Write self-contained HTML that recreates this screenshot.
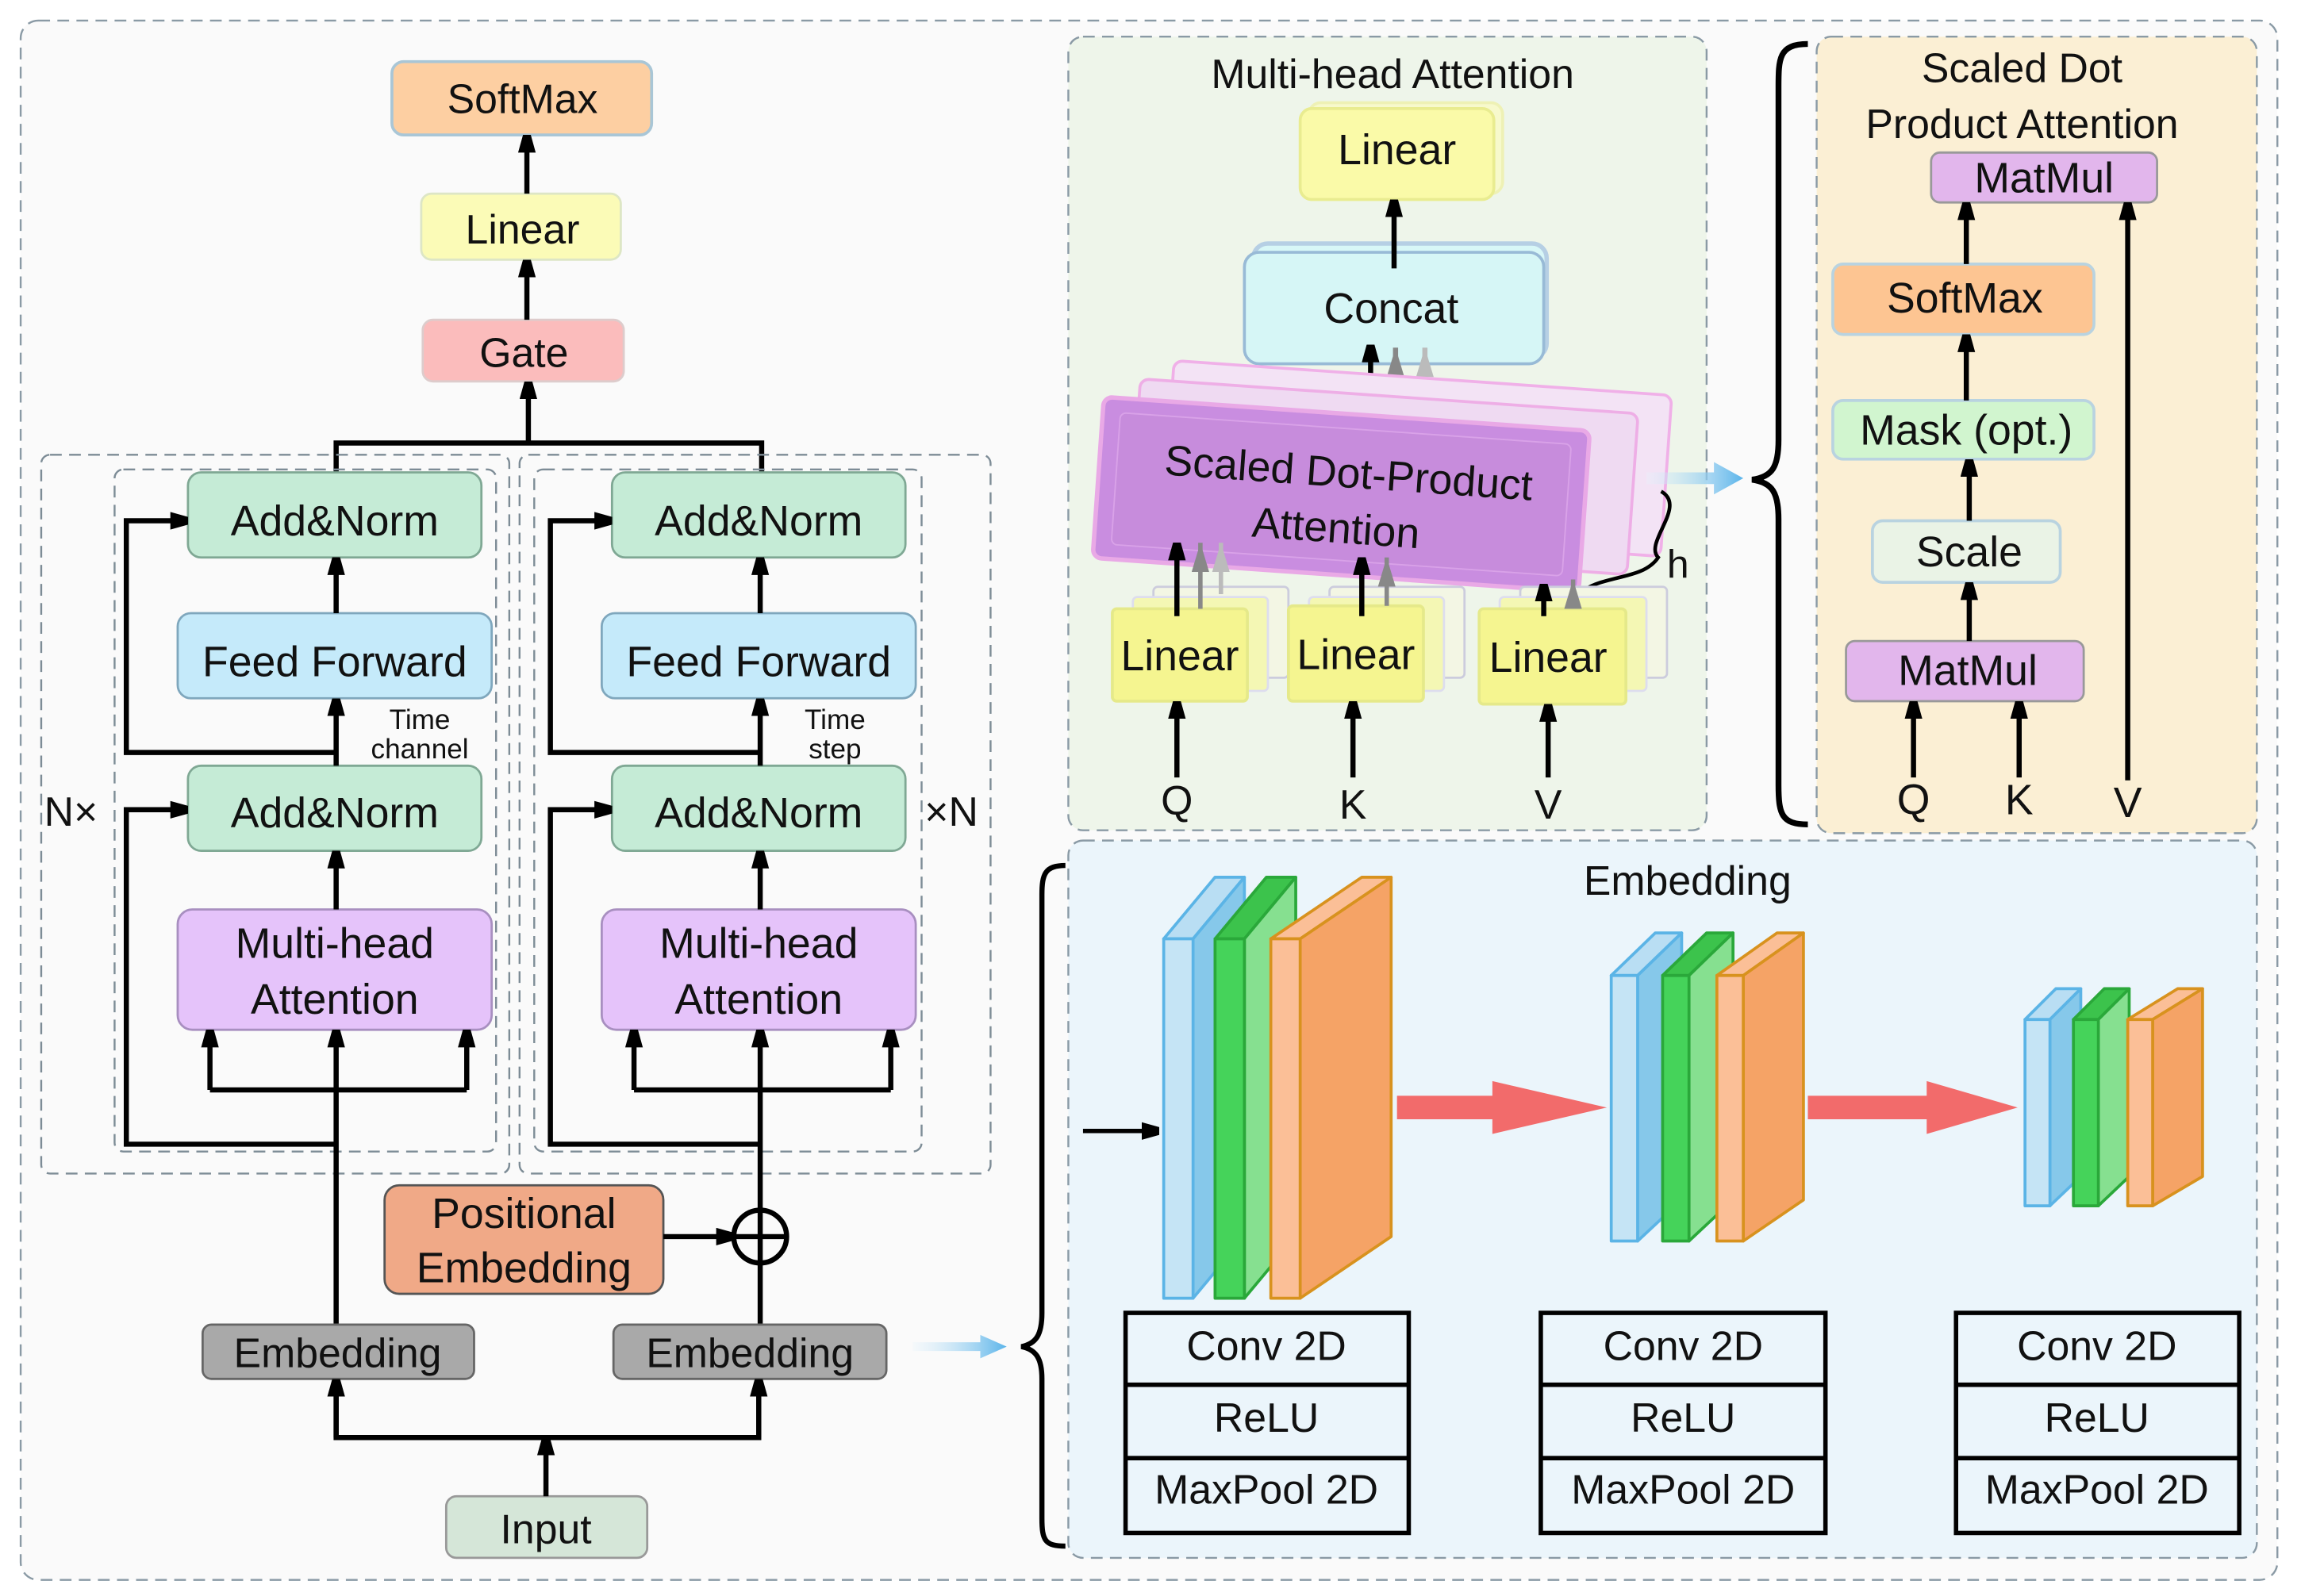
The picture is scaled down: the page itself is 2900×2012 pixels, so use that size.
<!DOCTYPE html>
<html><head><meta charset="utf-8"><style>
html,body{margin:0;padding:0;background:#fff}
svg{display:block}
text{font-family:"Liberation Sans",sans-serif;fill:#111}
</style></head><body>
<svg width="2900" height="2012" viewBox="0 0 1568 1088" xmlns="http://www.w3.org/2000/svg">
<defs>
<marker id="a" markerUnits="userSpaceOnUse" markerWidth="12" markerHeight="22" refX="10" refY="6" orient="auto"><path d="M0,0 L12,6 L0,12 Z" transform="scale(1.8,1)" fill="#000"/></marker>
<marker id="g1" markerUnits="userSpaceOnUse" markerWidth="22" markerHeight="12" refX="20" refY="6" orient="auto"><path d="M0,0 L20,6 L0,12 Z" fill="#888"/></marker>
<marker id="g2" markerUnits="userSpaceOnUse" markerWidth="22" markerHeight="12" refX="20" refY="6" orient="auto"><path d="M0,0 L20,6 L0,12 Z" fill="#bbb"/></marker>
<linearGradient id="bl" x1="0" x2="1" y1="0" y2="0"><stop offset="0" stop-color="#e8f4fb" stop-opacity="0.3"/><stop offset="1" stop-color="#5ab4ea"/></linearGradient>
</defs>
<rect x="0" y="0" width="1568" height="1088" fill="#fff"/>
<rect x="14" y="14" width="1538" height="1063" rx="12" fill="#fafafa" stroke="#8a9aa5" stroke-dasharray="8,5" stroke-width="1.3"/>

<g font-size="28" text-anchor="middle">
<rect x="267" y="42" width="177" height="50" rx="8" fill="#fdcfa2" stroke="#a9c6d6" stroke-width="2"/>
<text x="356" y="77">SoftMax</text>
<rect x="287" y="132" width="136" height="45" rx="7" fill="#fbfbb7" stroke="#dde6c5" stroke-width="1.5"/>
<text x="356" y="166">Linear</text>
<rect x="288" y="218" width="137" height="42" rx="7" fill="#fbbcbc" stroke="#dcc" stroke-width="1.5"/>
<text x="357" y="250">Gate</text>
</g>
<g stroke="#000" stroke-width="3.5" fill="none">
<line x1="359" y1="132" x2="359" y2="94" marker-end="url(#a)"/>
<line x1="359" y1="218" x2="359" y2="179" marker-end="url(#a)"/>
<line x1="360" y1="302" x2="360" y2="262" marker-end="url(#a)"/>
<polyline points="229,322 229,302 519,302 519,322"/>
</g>

<g fill="none" stroke="#7d8c96" stroke-dasharray="8,5" stroke-width="1.3">
<rect x="28" y="310" width="319" height="490" rx="6"/>
<rect x="78" y="320" width="260" height="465" rx="6"/>
<rect x="354" y="310" width="321" height="490" rx="6"/>
<rect x="364" y="320" width="264" height="465" rx="6"/>
</g>

<g id="enc">
<rect x="128" y="322" width="200" height="58" rx="9" fill="#c5ebd6" stroke="#7fa894" stroke-width="1.5"/>
<rect x="121" y="418" width="214" height="58" rx="9" fill="#c5eafa" stroke="#7fa7bd" stroke-width="1.5"/>
<rect x="128" y="522" width="200" height="58" rx="9" fill="#c5ebd6" stroke="#7fa894" stroke-width="1.5"/>
<rect x="121" y="620" width="214" height="82" rx="10" fill="#e5c3fa" stroke="#a88fc0" stroke-width="1.5"/>
<g font-size="29" text-anchor="middle">
<text x="228" y="365">Add&amp;Norm</text>
<text x="228" y="461">Feed Forward</text>
<text x="228" y="564">Add&amp;Norm</text>
<text x="228" y="653">Multi-head</text>
<text x="228" y="691">Attention</text>
</g>
<g stroke="#000" stroke-width="3.5" fill="none">
<line x1="229" y1="418" x2="229" y2="382" marker-end="url(#a)"/>
<line x1="229" y1="522" x2="229" y2="478" marker-end="url(#a)"/>
<line x1="229" y1="620" x2="229" y2="582" marker-end="url(#a)"/>
<polyline points="229,513 86,513 86,355 126,355" marker-end="url(#a)"/>
<polyline points="229,780 86,780 86,552 126,552" marker-end="url(#a)"/>
<line x1="143" y1="743" x2="318" y2="743"/>
<line x1="143" y1="743" x2="143" y2="704" marker-end="url(#a)"/>
<line x1="318" y1="743" x2="318" y2="704" marker-end="url(#a)"/>
<line x1="229" y1="905" x2="229" y2="704" marker-end="url(#a)"/>
</g>
</g>
<g transform="translate(289,0)"><use href="#enc"/></g>
<g font-size="19" text-anchor="middle">
<text x="286" y="497">Time</text><text x="286" y="517">channel</text>
<text x="569" y="497">Time</text><text x="569" y="517">step</text>
</g>
<text x="30" y="563" font-size="28">N×</text>
<text x="630" y="563" font-size="28">×N</text>

<rect x="262" y="808" width="190" height="74" rx="10" fill="#f0a987" stroke="#555" stroke-width="1.5"/>
<g font-size="29" text-anchor="middle"><text x="357" y="837">Positional</text><text x="357" y="874">Embedding</text></g>
<line x1="452" y1="843" x2="498" y2="843" stroke="#000" stroke-width="3.5" marker-end="url(#a)"/>
<circle cx="518" cy="843" r="18" fill="#fafafa" stroke="#000" stroke-width="3.5"/>
<line x1="500" y1="843" x2="536" y2="843" stroke="#000" stroke-width="3.5"/>
<line x1="518" y1="825" x2="518" y2="861" stroke="#000" stroke-width="3.5"/>

<rect x="138" y="903" width="185" height="37" rx="6" fill="#a9a9a9" stroke="#666" stroke-width="1.5"/>
<rect x="418" y="903" width="186" height="37" rx="6" fill="#a9a9a9" stroke="#666" stroke-width="1.5"/>
<g font-size="28" text-anchor="middle"><text x="230" y="932">Embedding</text><text x="511" y="932">Embedding</text></g>
<rect x="304" y="1020" width="137" height="42" rx="7" fill="#d5e6d8" stroke="#999" stroke-width="1.5"/>
<text x="372" y="1052" font-size="28" text-anchor="middle">Input</text>
<g stroke="#000" stroke-width="3.5" fill="none">
<line x1="372" y1="1020" x2="372" y2="982" marker-end="url(#a)"/>
<polyline points="229,942 229,980 517,980 517,942"/>
<line x1="229" y1="980" x2="229" y2="942" marker-end="url(#a)"/>
<line x1="517" y1="980" x2="517" y2="942" marker-end="url(#a)"/>
</g>
<path d="M622,915 L668,915 L668,910 L686,918 L668,926 L668,921 L622,921 Z" fill="url(#bl)"/>

<rect x="728" y="25" width="435" height="541" rx="10" fill="#eef5ea" stroke="#8a9aa5" stroke-dasharray="8,5" stroke-width="1.3"/>
<text x="949" y="60" font-size="28" text-anchor="middle">Multi-head Attention</text>
<rect x="892" y="70" width="132" height="62" rx="8" fill="#fbfbc0" stroke="#eef0a0" stroke-width="2" opacity="0.7"/>
<rect x="886" y="74" width="132" height="62" rx="8" fill="#fafaa8" stroke="#e9ec90" stroke-width="2"/>
<text x="952" y="112" font-size="29" text-anchor="middle">Linear</text>
<rect x="854" y="166" width="200" height="78" rx="10" fill="#d8f7f7" stroke="#b6cfe4" stroke-width="3"/>
<rect x="848" y="172" width="204" height="76" rx="10" fill="#d6f6f6" stroke="#98bad6" stroke-width="2"/>
<text x="948" y="220" font-size="29" text-anchor="middle">Concat</text>
<g stroke="#000" stroke-width="3.5"><line x1="950" y1="183" x2="950" y2="138" marker-end="url(#a)"/>
<line x1="934" y1="295" x2="934" y2="237" marker-end="url(#a)"/></g>
<line x1="951" y1="295" x2="951" y2="237" stroke="#888" stroke-width="3.5" marker-end="url(#g1)"/>
<line x1="971" y1="275" x2="971" y2="237" stroke="#bbb" stroke-width="3.5" marker-end="url(#g2)"/>
<g transform="rotate(4 914 337)">
<rect x="794" y="254" width="340" height="110" rx="6" fill="#f3e3f5" stroke="#f0b0e8" stroke-width="2"/>
<rect x="772" y="268" width="340" height="110" rx="6" fill="#efdaf2" stroke="#eeaee6" stroke-width="2"/>
<rect x="748" y="282" width="332" height="110" rx="6" fill="#c98de0" stroke="#e9a9e6" stroke-width="3"/>
<rect x="760" y="292" width="308" height="90" rx="4" fill="#c78cdc" stroke="#d9a2e8" stroke-width="1"/>
<text x="918" y="332" font-size="29" text-anchor="middle">Scaled Dot-Product</text>
<text x="912" y="370" font-size="29" text-anchor="middle">Attention</text>
</g>
<path d="M1132,335 C1150,345 1120,370 1130,380 C1120,395 1095,392 1080,402" fill="none" stroke="#000" stroke-width="2.5"/>
<text x="1136" y="394" font-size="27">h</text>
<path d="M1122,322 L1168,322 L1168,315 L1188,326 L1168,337 L1168,330 L1122,330 Z" fill="url(#bl)"/>

<g>
<rect x="786" y="400" width="92" height="62" rx="3" fill="#f3f6e4" stroke="#ccd" stroke-width="1.5"/>
<rect x="772" y="407" width="92" height="64" rx="3" fill="#f4f7b4" stroke="#dde" stroke-width="1.5"/>
<rect x="758" y="415" width="92" height="63" rx="3" fill="#f5f590" stroke="#e5e98a" stroke-width="2"/>
<rect x="906" y="400" width="92" height="62" rx="3" fill="#f3f6e4" stroke="#ccd" stroke-width="1.5"/>
<rect x="892" y="407" width="92" height="64" rx="3" fill="#f4f7b4" stroke="#dde" stroke-width="1.5"/>
<rect x="878" y="413" width="92" height="65" rx="3" fill="#f5f590" stroke="#e5e98a" stroke-width="2"/>
<rect x="1036" y="400" width="100" height="62" rx="3" fill="#f3f6e4" stroke="#ccd" stroke-width="1.5"/>
<rect x="1022" y="407" width="100" height="64" rx="3" fill="#f4f7b4" stroke="#dde" stroke-width="1.5"/>
<rect x="1008" y="415" width="100" height="65" rx="3" fill="#f5f590" stroke="#e5e98a" stroke-width="2"/>
<g font-size="29" text-anchor="middle"><text x="804" y="457">Linear</text><text x="924" y="456">Linear</text><text x="1055" y="458">Linear</text></g>
</g>
<g stroke="#000" stroke-width="3.5">
<line x1="802" y1="420" x2="802" y2="372" marker-end="url(#a)"/>
<line x1="928" y1="420" x2="928" y2="382" marker-end="url(#a)"/>
<line x1="1052" y1="420" x2="1052" y2="400" marker-end="url(#a)"/>
<line x1="802" y1="530" x2="802" y2="480" marker-end="url(#a)"/>
<line x1="922" y1="530" x2="922" y2="480" marker-end="url(#a)"/>
<line x1="1055" y1="530" x2="1055" y2="482" marker-end="url(#a)"/>
</g>
<line x1="818" y1="415" x2="818" y2="370" stroke="#888" stroke-width="3" marker-end="url(#g1)"/>
<line x1="832" y1="405" x2="832" y2="370" stroke="#bbb" stroke-width="3" marker-end="url(#g2)"/>
<line x1="945" y1="413" x2="945" y2="380" stroke="#888" stroke-width="3" marker-end="url(#g1)"/>
<line x1="1072" y1="415" x2="1072" y2="395" stroke="#888" stroke-width="3" marker-end="url(#g1)"/>
<g font-size="28" text-anchor="middle"><text x="802" y="555">Q</text><text x="922" y="558">K</text><text x="1055" y="558">V</text></g>

<path d="M1232,30 C1212,30 1212,40 1212,60 L1212,300 C1212,318 1208,325 1194,327 C1208,329 1212,336 1212,354 L1212,535 C1212,555 1214,562 1232,562" fill="none" stroke="#000" stroke-width="4"/>

<rect x="1238" y="25" width="300" height="543" rx="10" fill="#fbefd4" stroke="#8a9aa5" stroke-dasharray="8,5" stroke-width="1.3"/>
<g font-size="28" text-anchor="middle"><text x="1378" y="56">Scaled Dot</text><text x="1378" y="94">Product Attention</text></g>
<rect x="1316" y="104" width="154" height="34" rx="6" fill="#e2b6ec" stroke="#999" stroke-width="1.5"/>
<rect x="1249" y="180" width="178" height="48" rx="7" fill="#fdc592" stroke="#b9d3e0" stroke-width="2"/>
<rect x="1249" y="273" width="178" height="40" rx="7" fill="#d1f5cf" stroke="#b9d3e0" stroke-width="2"/>
<rect x="1276" y="355" width="128" height="42" rx="7" fill="#eaf3e6" stroke="#b9d3e0" stroke-width="2"/>
<rect x="1258" y="437" width="162" height="41" rx="6" fill="#e2b6ec" stroke="#999" stroke-width="1.5"/>
<g font-size="29" text-anchor="middle">
<text x="1393" y="131">MatMul</text><text x="1339" y="213">SoftMax</text><text x="1340" y="303">Mask (opt.)</text>
<text x="1342" y="386">Scale</text><text x="1341" y="467">MatMul</text>
<text x="1304" y="555">Q</text><text x="1376" y="555">K</text><text x="1450" y="557">V</text>
</g>
<g stroke="#000" stroke-width="3.5">
<line x1="1340" y1="180" x2="1340" y2="140" marker-end="url(#a)"/>
<line x1="1340" y1="273" x2="1340" y2="230" marker-end="url(#a)"/>
<line x1="1342" y1="355" x2="1342" y2="315" marker-end="url(#a)"/>
<line x1="1342" y1="437" x2="1342" y2="399" marker-end="url(#a)"/>
<line x1="1304" y1="530" x2="1304" y2="480" marker-end="url(#a)"/>
<line x1="1376" y1="530" x2="1376" y2="480" marker-end="url(#a)"/>
<line x1="1450" y1="532" x2="1450" y2="140" marker-end="url(#a)"/>
</g>

<rect x="728" y="573" width="810" height="489" rx="10" fill="#ebf5fb" stroke="#8a9aa5" stroke-dasharray="8,5" stroke-width="1.3"/>
<text x="1150" y="610" font-size="28" text-anchor="middle">Embedding</text>
<path d="M726,590 C712,590 710,596 710,610 L710,895 C710,910 706,916 696,918 C706,920 710,926 710,940 L710,1035 C710,1050 712,1054 726,1054" fill="none" stroke="#000" stroke-width="3.5"/>
<line x1="738" y1="771" x2="788" y2="771" stroke="#000" stroke-width="3" marker-end="url(#a)"/>

<g stroke-width="2" stroke-linejoin="round">
<path d="M793,640 L813,640 L848,598 L828,598 Z" fill="#b9def3" stroke="#5bb4e6"/>
<path d="M813,640 L848,598 L848,843 L813,885 Z" fill="#86c8ea" stroke="#5bb4e6"/>
<rect x="793" y="640" width="20" height="245" fill="#c5e4f5" stroke="#5bb4e6"/>
<path d="M828,640 L848,640 L883,598 L863,598 Z" fill="#3cc34c" stroke="#2aa83a"/>
<path d="M848,640 L883,598 L883,843 L848,885 Z" fill="#86e090" stroke="#2aa83a"/>
<rect x="828" y="640" width="20" height="245" fill="#45d35a" stroke="#2aa83a"/>
<path d="M866,640 L886,640 L948,598 L928,598 Z" fill="#fbbf97" stroke="#d8921e"/>
<path d="M886,640 L948,598 L948,843 L886,885 Z" fill="#f5a366" stroke="#d8921e"/>
<rect x="866" y="640" width="20" height="245" fill="#fbbf97" stroke="#d8921e"/>
</g>
<g stroke-width="2" stroke-linejoin="round">
<path d="M1098,665 L1116,665 L1146,636 L1128,636 Z" fill="#b9def3" stroke="#5bb4e6"/>
<path d="M1116,665 L1146,636 L1146,818 L1116,846 Z" fill="#86c8ea" stroke="#5bb4e6"/>
<rect x="1098" y="665" width="18" height="181" fill="#c5e4f5" stroke="#5bb4e6"/>
<path d="M1133,665 L1151,665 L1181,636 L1163,636 Z" fill="#3cc34c" stroke="#2aa83a"/>
<path d="M1151,665 L1181,636 L1181,818 L1151,846 Z" fill="#86e090" stroke="#2aa83a"/>
<rect x="1133" y="665" width="18" height="181" fill="#45d35a" stroke="#2aa83a"/>
<path d="M1170,665 L1188,665 L1229,636 L1211,636 Z" fill="#fbbf97" stroke="#d8921e"/>
<path d="M1188,665 L1229,636 L1229,818 L1188,846 Z" fill="#f5a366" stroke="#d8921e"/>
<rect x="1170" y="665" width="18" height="181" fill="#fbbf97" stroke="#d8921e"/>
</g>
<g stroke-width="2" stroke-linejoin="round">
<path d="M1380,695 L1397,695 L1418,674 L1401,674 Z" fill="#b9def3" stroke="#5bb4e6"/>
<path d="M1397,695 L1418,674 L1418,802 L1397,822 Z" fill="#86c8ea" stroke="#5bb4e6"/>
<rect x="1380" y="695" width="17" height="127" fill="#c5e4f5" stroke="#5bb4e6"/>
<path d="M1413,695 L1430,695 L1451,674 L1434,674 Z" fill="#3cc34c" stroke="#2aa83a"/>
<path d="M1430,695 L1451,674 L1451,802 L1430,822 Z" fill="#86e090" stroke="#2aa83a"/>
<rect x="1413" y="695" width="17" height="127" fill="#45d35a" stroke="#2aa83a"/>
<path d="M1450,695 L1467,695 L1501,674 L1484,674 Z" fill="#fbbf97" stroke="#d8921e"/>
<path d="M1467,695 L1501,674 L1501,802 L1467,822 Z" fill="#f5a366" stroke="#d8921e"/>
<rect x="1450" y="695" width="17" height="127" fill="#fbbf97" stroke="#d8921e"/>
</g>
<path d="M952,747 L1017,747 L1017,737 L1095,755 L1017,773 L1017,763 L952,763 Z" fill="#f26b6b"/>
<path d="M1232,747 L1313,747 L1313,737 L1375,755 L1313,773 L1313,763 L1232,763 Z" fill="#f26b6b"/>

<g fill="none" stroke="#000" stroke-width="3">
<rect x="767" y="895" width="193" height="150"/><line x1="767" y1="944" x2="960" y2="944"/><line x1="767" y1="994" x2="960" y2="994"/>
<rect x="1050" y="895" width="194" height="150"/><line x1="1050" y1="944" x2="1244" y2="944"/><line x1="1050" y1="994" x2="1244" y2="994"/>
<rect x="1333" y="895" width="193" height="150"/><line x1="1333" y1="944" x2="1526" y2="944"/><line x1="1333" y1="994" x2="1526" y2="994"/>
</g>
<g font-size="28" text-anchor="middle">
<text x="863" y="927">Conv 2D</text><text x="863" y="976">ReLU</text><text x="863" y="1025">MaxPool 2D</text>
<text x="1147" y="927">Conv 2D</text><text x="1147" y="976">ReLU</text><text x="1147" y="1025">MaxPool 2D</text>
<text x="1429" y="927">Conv 2D</text><text x="1429" y="976">ReLU</text><text x="1429" y="1025">MaxPool 2D</text>
</g>
</svg>
</body></html>
